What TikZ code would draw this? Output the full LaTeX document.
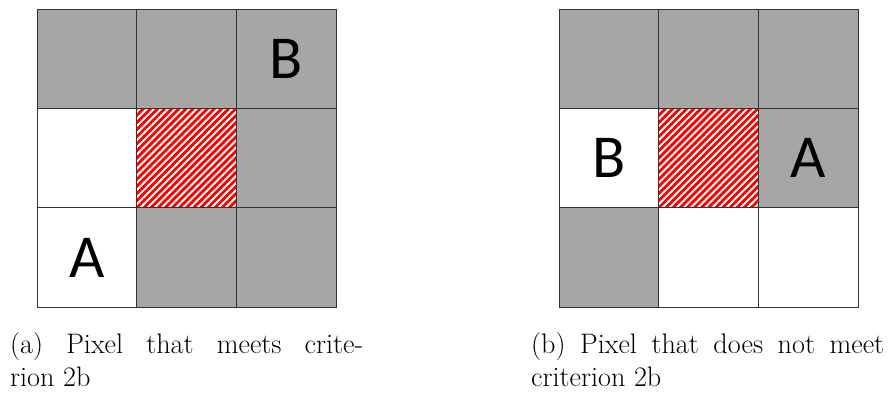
\documentclass[tikz,border=0pt]{standalone}
\usepackage{fontspec}
\newfontfamily\lettfont{Carlito}
\definecolor{cellgray}{HTML}{A6A6A6}
\definecolor{hatchred}{HTML}{FF0000}
\tikzset{
  cell/.style={draw=black!80, line width=1pt, minimum width=99.7pt, minimum height=99.4pt, inner sep=0pt, outer sep=0pt, anchor=north west},
  grayc/.style={cell, fill=cellgray},
  whitec/.style={cell, fill=white},
  letter/.style={font=\lettfont\fontsize{61}{61}\selectfont, inner sep=0pt},
  capt/.style={font=\fontsize{28.2}{33}\selectfont, inner sep=0pt, anchor=base west, text width=353pt, align=justify},
  stripe/.style={hatchred, line width=2.8pt},
}
\begin{document}
\begin{tikzpicture}[x=1pt, y=-1pt]
\useasboundingbox[fill=white] (0,0) rectangle (888,394);
% ---------- left grid ----------
\node[grayc]  (l00) at (37,9) {};
\node[grayc]  (l01) at (136.7,9) {};
\node[grayc]  (l02) at (236.4,9) {};
\node[whitec] (l10) at (37,108.4) {};
\node[whitec] (l11) at (136.7,108.4) {};
\node[grayc]  (l12) at (236.4,108.4) {};
\node[whitec] (l20) at (37,207.8) {};
\node[grayc]  (l21) at (136.7,207.8) {};
\node[grayc]  (l22) at (236.4,207.8) {};
\begin{scope}
  \clip (l11.north west) rectangle (l11.south east);
  \foreach \i in {-16,...,16}
    \draw[stripe, shift={(l11.south west)}] (\i*7.1,0) -- ++(120,-120);
\end{scope}
\draw[black!80, line width=1pt] (l11.north west) rectangle (l11.south east);
\node[letter] (lB) at (l02.center) {B};
\node[letter] (lA) at (l20.center) {A};
% ---------- right grid ----------
\node[grayc]  (r00) at (559,9) {};
\node[grayc]  (r01) at (658.7,9) {};
\node[grayc]  (r02) at (758.4,9) {};
\node[whitec] (r10) at (559,108.4) {};
\node[whitec] (r11) at (658.7,108.4) {};
\node[grayc]  (r12) at (758.4,108.4) {};
\node[grayc]  (r20) at (559,207.8) {};
\node[whitec] (r21) at (658.7,207.8) {};
\node[whitec] (r22) at (758.4,207.8) {};
\begin{scope}
  \clip (r11.north west) rectangle (r11.south east);
  \foreach \i in {-16,...,16}
    \draw[stripe, shift={(r11.south west)}] (\i*7.1,0) -- ++(120,-120);
\end{scope}
\draw[black!80, line width=1pt] (r11.north west) rectangle (r11.south east);
\node[letter] (rB) at (r10.center) {B};
\node[letter] (rA) at (r12.center) {A};
% ---------- captions ----------
\node[capt] (capa) at (10,353) {(a) Pixel that meets crite-\linebreak rion 2b};
\node[capt] (capb) at (531,353) {(b) Pixel that does not meet\linebreak criterion 2b};
\end{tikzpicture}
\end{document}
